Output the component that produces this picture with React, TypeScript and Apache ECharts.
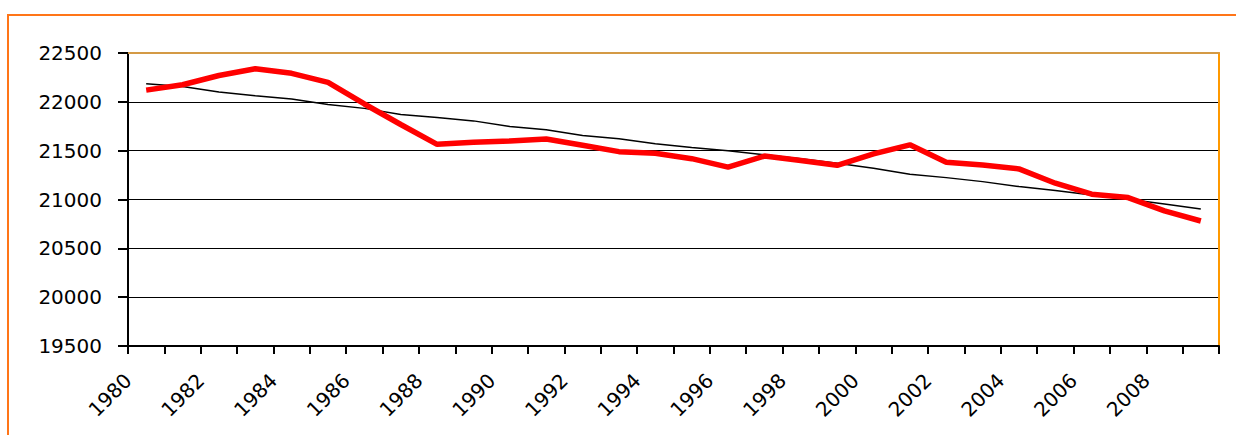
import React, { useEffect, useRef } from "react";
import * as echarts from "echarts";

const years = [
  "1980", "1981", "1982", "1983", "1984", "1985", "1986", "1987", "1988", "1989",
  "1990", "1991", "1992", "1993", "1994", "1995", "1996", "1997", "1998", "1999",
  "2000", "2001", "2002", "2003", "2004", "2005", "2006", "2007", "2008", "2009",
];

const tickYears = [
  "1980", "1981", "1982", "1983", "1984", "1985", "1986", "1987", "1988", "1989",
  "1990", "1991", "1992", "1993", "1994", "1995", "1996", "1997", "1998", "1999",
  "2000", "2001", "2002", "2003", "2004", "2005", "2006", "2007", "2008", "2009", "2010",
];

const redSeries = [
  22120, 22175, 22270, 22339, 22292, 22199, 21978, 21768, 21565, 21585,
  21600, 21620, 21556, 21490, 21473, 21418, 21332, 21445, 21400, 21350,
  21467, 21560, 21382, 21354, 21313, 21167, 21054, 21020, 20883, 20780,
];

const blackSeries = [
  22185, 22157, 22100, 22062, 22028, 21972, 21933, 21870, 21840, 21805,
  21748, 21713, 21655, 21621, 21570, 21532, 21498, 21457, 21418, 21372,
  21321, 21259, 21224, 21183, 21132, 21091, 21046, 21003, 20955, 20903,
];

const yMin = 19500;
const yMax = 22500;
const yStep = 500;

const FONT = "'DejaVu Sans', Verdana, sans-serif";

export default function App() {
  const ref = useRef<HTMLDivElement>(null);

  useEffect(() => {
    if (!ref.current) return;
    const chart = echarts.init(ref.current, undefined, { renderer: "svg" });
    chart.setOption({
      animation: false,
      backgroundColor: "#ffffff",
      grid: { left: 128, right: 17, top: 53, bottom: 89, containLabel: false, outerBoundsMode: "none" },
      graphic: [
        {
          type: "rect",
          shape: { x: 8, y: 15, width: 1260, height: 460 },
          style: { fill: "none", stroke: "#FF7518", lineWidth: 2 },
          silent: true,
        },
      ],
      xAxis: [
        {
          type: "category",
          data: years,
          boundaryGap: true,
          position: "bottom",
          axisLine: { show: true, lineStyle: { color: "#000", width: 2 } },
          axisTick: { show: true, interval: 0, length: 8, lineStyle: { color: "#000", width: 2 } },
          axisLabel: { show: false },
          splitLine: { show: false },
        },
        {
          type: "category",
          data: tickYears,
          boundaryGap: false,
          position: "bottom",
          axisLine: { show: false },
          axisTick: { show: false },
          splitLine: { show: false },
          axisLabel: {
            show: true,
            interval: 1,
            rotate: 45,
            margin: 31,
            hideOverlap: false,
            formatter: (v: string) => (v === "2010" ? "" : v),
            fontSize: 20,
            fontFamily: FONT,
            color: "#000",
          },
        },
        {
          type: "category",
          data: years,
          position: "top",
          axisLine: { show: true, lineStyle: { color: "#D49A45", width: 2 } },
          axisTick: { show: false },
          axisLabel: { show: false },
          splitLine: { show: false },
        },
      ],
      yAxis: [
        {
          type: "value",
          min: yMin,
          max: yMax,
          interval: yStep,
          position: "left",
          axisLine: { show: true, lineStyle: { color: "#000", width: 2 } },
          axisTick: { show: true, length: 10, lineStyle: { color: "#000", width: 2 } },
          axisLabel: {
            margin: 26,
            color: "#000",
            fontSize: 20,
            fontFamily: FONT,
            formatter: (v: number) => String(v),
          },
          splitLine: { show: true, lineStyle: { color: "#000", width: 1.2 } },
        },
        {
          type: "value",
          min: yMin,
          max: yMax,
          interval: yStep,
          position: "right",
          axisLine: { show: true, lineStyle: { color: "#FF9900", width: 2 } },
          axisTick: { show: false },
          axisLabel: { show: false },
          splitLine: { show: false },
        },
      ],
      series: [
        {
          type: "line",
          data: blackSeries,
          xAxisIndex: 0,
          yAxisIndex: 0,
          showSymbol: false,
          symbol: "none",
          lineStyle: { color: "#000", width: 1.5 },
          z: 3,
        },
        {
          type: "line",
          data: redSeries,
          xAxisIndex: 0,
          yAxisIndex: 0,
          showSymbol: false,
          symbol: "none",
          lineStyle: { color: "#FF0000", width: 5.5 },
          z: 4,
        },
      ],
    });
    return () => chart.dispose();
  }, []);

  return (
    <div
      ref={ref}
      style={{ position: "absolute", left: 0, top: 0, width: 1236, height: 435 }}
    />
  );
}
